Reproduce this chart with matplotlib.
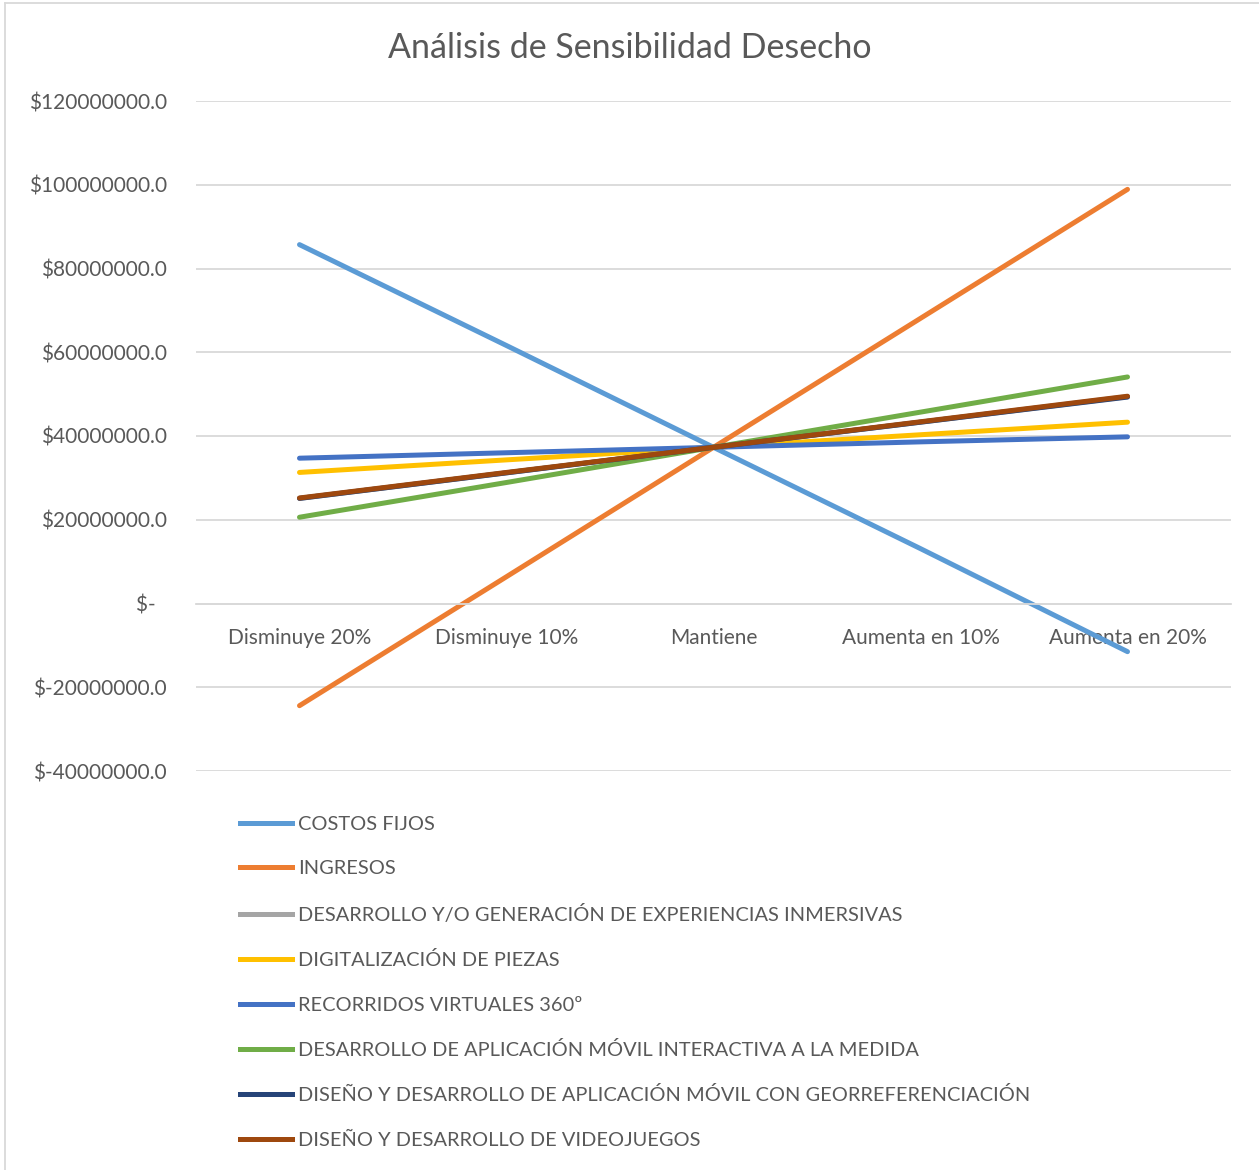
import matplotlib
matplotlib.use("Agg")
import matplotlib.pyplot as plt
from matplotlib.lines import Line2D

plt.rcParams['font.family'] = ['Lato', 'DejaVu Sans']

# Categories and series (values in pesos)
categories = ["Disminuye 20%", "Disminuye 10%", "Mantiene", "Aumenta en 10%", "Aumenta en 20%"]

costos_fijos = [85.7e6, 61.6e6, 37.3e6, 13.1e6, -11.5e6]
ingresos = [-24.4e6, 6.4e6, 37.3e6, 68.1e6, 98.9e6]
experiencias_inmersivas = [25.1e6, 31.2e6, 37.3e6, 43.3e6, 49.4e6]
digitalizacion = [31.3e6, 34.3e6, 37.3e6, 40.3e6, 43.3e6]
recorridos_360 = [34.7e6, 36.0e6, 37.3e6, 38.6e6, 39.8e6]
app_movil = [20.6e6, 28.9e6, 37.3e6, 45.7e6, 54.1e6]
app_georref = [25.1e6, 31.2e6, 37.3e6, 43.3e6, 49.3e6]
videojuegos = [25.2e6, 31.3e6, 37.3e6, 43.4e6, 49.5e6]

series_names = [
    "COSTOS FIJOS",
    "INGRESOS",
    "DESARROLLO Y/O GENERACIÓN DE EXPERIENCIAS INMERSIVAS",
    "DIGITALIZACIÓN DE PIEZAS",
    "RECORRIDOS VIRTUALES 360º",
    "DESARROLLO DE APLICACIÓN MÓVIL INTERACTIVA A LA MEDIDA",
    "DISEÑO Y DESARROLLO DE APLICACIÓN MÓVIL CON GEORREFERENCIACIÓN",
    "DISEÑO Y DESARROLLO DE VIDEOJUEGOS",
]
series_values = [costos_fijos, ingresos, experiencias_inmersivas, digitalizacion,
                 recorridos_360, app_movil, app_georref, videojuegos]
colors = ["#5B9BD5", "#ED7D31", "#A5A5A5", "#FFC000",
          "#4472C4", "#70AD47", "#264478", "#9E480E"]

y_ticks = [-40e6, -20e6, 0, 20e6, 40e6, 60e6, 80e6, 100e6, 120e6]
y_tick_labels = ["$-40000000.0", "$-20000000.0", "$-  ", "$20000000.0", "$40000000.0",
                 "$60000000.0", "$80000000.0", "$100000000.0", "$120000000.0"]

text_color = "#595959"
grid_color = "#D9D9D9"

fig = plt.figure(figsize=(12.59, 11.7), dpi=100)
ax = fig.add_axes([196 / 1259, 1 - 771 / 1170, 1035 / 1259, 670 / 1170])

x = list(range(len(categories)))
for vals, col in zip(series_values, colors):
    ax.plot(x, vals, color=col, lw=3.6, solid_capstyle='round')

ax.set_xlim(-0.5, len(categories) - 0.5)
ax.set_ylim(-40e6, 120e6)
ax.set_yticks(y_ticks)
ax.set_yticklabels(y_tick_labels)
ax.set_xticks(x)
ax.set_xticklabels(categories)

ax.grid(axis='y', color=grid_color, lw=1.3)
ax.set_axisbelow(True)
for side in ['top', 'right', 'left']:
    ax.spines[side].set_visible(False)
ax.spines['bottom'].set_position(('data', 0))
ax.spines['bottom'].set_color(grid_color)
ax.spines['bottom'].set_linewidth(1.3)

ax.tick_params(axis='y', length=0, pad=21, labelsize=15, labelcolor=text_color)
ax.tick_params(axis='x', length=0, pad=18, labelsize=15, labelcolor=text_color)

fig.text(0.5, 1 - 48 / 1170, "Análisis de Sensibilidad Desecho", fontsize=24.5,
         color=text_color, ha='center', va='center')

handles = [Line2D([0], [0], color=c, lw=3.6) for c in colors]
leg = fig.legend(handles, series_names, loc='upper left',
                 bbox_to_anchor=(240 / 1259, 1 - 816 / 1170),
                 frameon=False, fontsize=14.4, handlelength=2.6, handletextpad=0.3,
                 labelspacing=1.37, borderpad=0, borderaxespad=0)
for t in leg.get_texts():
    t.set_color(text_color)

# chart area border (left and top edges visible)
fig.add_artist(Line2D([5 / 1259, 5 / 1259], [0, 1 - 3 / 1170], color=grid_color, lw=1.3))
fig.add_artist(Line2D([5 / 1259, 1], [1 - 3 / 1170, 1 - 3 / 1170], color=grid_color, lw=1.3))

fig.savefig("out.png", dpi=100)
